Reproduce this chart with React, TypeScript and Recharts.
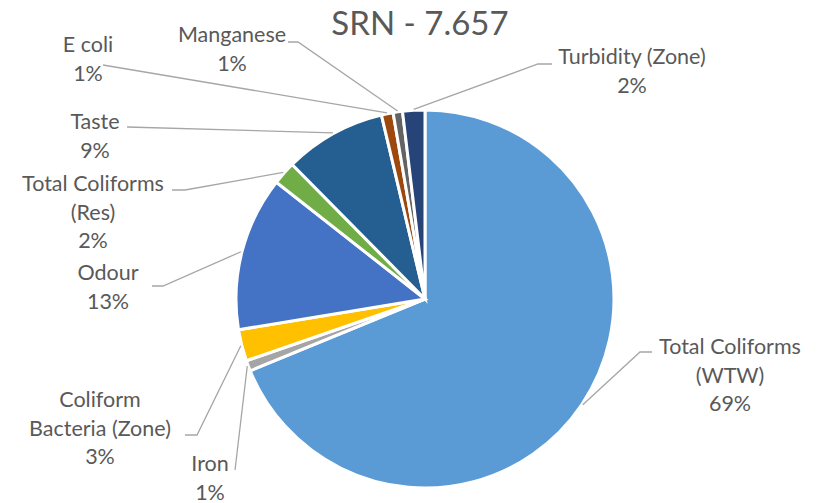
import React from 'react';
import { PieChart, Pie, Cell } from 'recharts';

const categories = [
  'Total Coliforms (WTW)',
  'Iron',
  'Coliform Bacteria (Zone)',
  'Odour',
  'Total Coliforms (Res)',
  'Taste',
  'E coli',
  'Manganese',
  'Turbidity (Zone)',
];
const shares = [68.8, 0.9, 2.7, 13.2, 2.0, 8.7, 1.0, 0.8, 1.9];
const colors = ['#5B9BD5', '#A5A5A5', '#FFC000', '#4472C4', '#70AD47', '#255E91', '#9E480E', '#636363', '#264478'];

// label text lines (before the percentage)
const labelLines: Record<string, string[]> = {
  'Total Coliforms (WTW)': ['Total Coliforms', '(WTW)'],
  Iron: ['Iron'],
  'Coliform Bacteria (Zone)': ['Coliform', 'Bacteria (Zone)'],
  Odour: ['Odour'],
  'Total Coliforms (Res)': ['Total Coliforms', '(Res)'],
  Taste: ['Taste'],
  'E coli': ['E coli'],
  Manganese: ['Manganese'],
  'Turbidity (Zone)': ['Turbidity (Zone)'],
};

// where each label sits and how its leader line leaves it
const labelLayout: Record<string, { x: number; y: number; pts: number[][] }> = {
  'Total Coliforms (WTW)': { x: 730, y: 354, pts: [[652, 352], [640, 352]] },
  Iron: { x: 210, y: 471, pts: [[235, 470]] },
  'Coliform Bacteria (Zone)': { x: 100, y: 407, pts: [[185, 435], [197, 435]] },
  Odour: { x: 108, y: 280, pts: [[152, 286], [163, 286]] },
  'Total Coliforms (Res)': { x: 93, y: 191, pts: [[172, 190], [185, 190]] },
  Taste: { x: 95, y: 129, pts: [[127, 127]] },
  'E coli': { x: 88, y: 52, pts: [[103, 65]] },
  Manganese: { x: 232, y: 42, pts: [[288, 42], [298, 42]] },
  'Turbidity (Zone)': { x: 632, y: 64, pts: [[552, 64], [538, 64]] },
};

const data = categories.map((name, i) => ({ name, value: shares[i] }));
const RAD = Math.PI / 180;
const FONT = 'Lato, "Open Sans", sans-serif';

const renderLabel = (props: any) => {
  const { cx, cy, midAngle, outerRadius, percent, name } = props;
  const lay = labelLayout[name];
  if (!lay) return null;
  const ex = cx + (outerRadius + 1) * Math.cos(-midAngle * RAD);
  const ey = cy + (outerRadius + 1) * Math.sin(-midAngle * RAD);
  const pts = [...lay.pts, [ex, ey]];
  const d = pts.map((p, i) => (i === 0 ? 'M' : 'L') + p[0] + ',' + p[1]).join(' ');
  const lines = [...labelLines[name], Math.round(percent * 100) + '%'];
  return (
    <g key={name}>
      <path d={d} stroke="#A6A6A6" strokeWidth={1.3} fill="none" />
      <text x={lay.x} y={lay.y} textAnchor="middle" fill="#595959" fontSize={21.5} fontFamily={FONT}>
        {lines.map((t, i) => (
          <tspan key={i} x={lay.x} dy={i === 0 ? 0 : 28.5}>
            {t}
          </tspan>
        ))}
      </text>
    </g>
  );
};

export default function App() {
  return (
    <div style={{ position: 'absolute', left: 0, top: 0, width: 819, height: 503, background: '#fff' }}>
      <div
        style={{
          position: 'absolute',
          left: 0,
          width: 840,
          top: 0,
          textAlign: 'center',
          fontFamily: FONT,
          fontSize: 33,
          color: '#595959',
          lineHeight: '44px',
        }}
      >
        SRN - 7.657
      </div>
      <PieChart width={819} height={503} margin={{ top: 0, right: 0, bottom: 0, left: 0 }}>
        <Pie
          data={data}
          dataKey="value"
          nameKey="name"
          cx={425}
          cy={299}
          outerRadius={189}
          startAngle={90}
          endAngle={-270}
          stroke="#fff"
          strokeWidth={3}
          label={renderLabel}
          labelLine={false}
          isAnimationActive={false}
        >
          {data.map((d, i) => (
            <Cell key={d.name} fill={colors[i]} />
          ))}
        </Pie>
      </PieChart>
    </div>
  );
}
